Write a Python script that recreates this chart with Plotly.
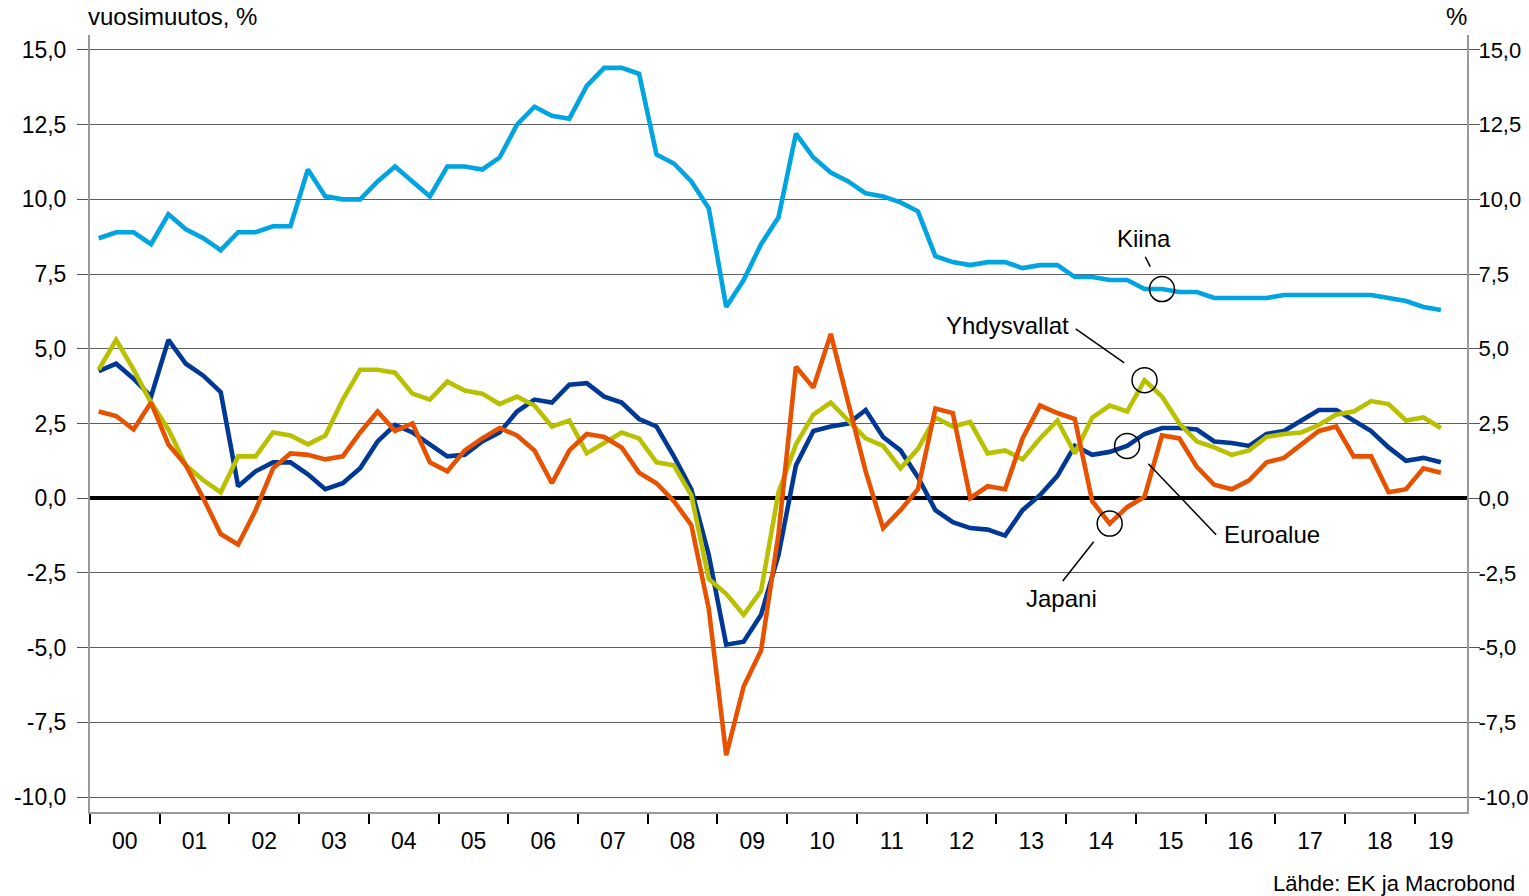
import plotly.graph_objects as go

# ---------------- data (quarterly, 2000Q1 .. 2019Q2) ----------------
START_YEAR = 2000
kiina = [8.7, 8.9, 8.9, 8.5,
         9.5, 9.0, 8.7, 8.3,
         8.9, 8.9, 9.1, 9.1,
         11.0, 10.1, 10.0, 10.0,
         10.6, 11.1, 10.6, 10.1,
         11.1, 11.1, 11.0, 11.4,
         12.5, 13.1, 12.8, 12.7,
         13.8, 14.4, 14.4, 14.2,
         11.5, 11.2, 10.6, 9.7,
         6.4, 7.3, 8.5, 9.4,
         12.2, 11.4, 10.9, 10.6,
         10.2, 10.1, 9.9, 9.6,
         8.1, 7.9, 7.8, 7.9,
         7.9, 7.7, 7.8, 7.8,
         7.4, 7.4, 7.3, 7.3,
         7.0, 7.0, 6.9, 6.9,
         6.7, 6.7, 6.7, 6.7,
         6.8, 6.8, 6.8, 6.8,
         6.8, 6.8, 6.7, 6.6,
         6.4, 6.3]

euroalue = [4.25, 4.5, 4.0, 3.4,
            5.3, 4.5, 4.1, 3.55,
            0.4, 0.9, 1.2, 1.2,
            0.8, 0.3, 0.5, 1.0,
            1.9, 2.45, 2.2, 1.8,
            1.4, 1.45, 1.9, 2.2,
            2.9, 3.3, 3.2, 3.8,
            3.85, 3.4, 3.2, 2.65,
            2.4, 1.4, 0.3, -1.9,
            -4.9, -4.8, -3.9, -1.9,
            1.1, 2.25, 2.4, 2.5,
            2.95, 2.05, 1.6, 0.7,
            -0.4, -0.8, -1.0, -1.05,
            -1.25, -0.4, 0.1, 0.75,
            1.75, 1.45, 1.55, 1.75,
            2.15, 2.35, 2.35, 2.3,
            1.9, 1.85, 1.75, 2.15,
            2.25, 2.6, 2.95, 2.95,
            2.6, 2.25, 1.7, 1.25,
            1.35, 1.2]

yhdysvallat = [4.3, 5.3, 4.3, 3.2,
               2.3, 1.1, 0.6, 0.2,
               1.4, 1.4, 2.2, 2.1,
               1.8, 2.1, 3.3, 4.3,
               4.3, 4.2, 3.5, 3.3,
               3.9, 3.6, 3.5, 3.15,
               3.4, 3.1, 2.4, 2.6,
               1.5, 1.85, 2.2, 2.0,
               1.2, 1.1, 0.1, -2.7,
               -3.2, -3.9, -3.1, 0.2,
               1.8, 2.8, 3.2, 2.6,
               2.0, 1.75, 1.0, 1.65,
               2.7, 2.4, 2.55, 1.5,
               1.6, 1.3, 2.0, 2.6,
               1.5, 2.7, 3.1, 2.9,
               3.95, 3.4, 2.5, 1.9,
               1.7, 1.45, 1.6, 2.05,
               2.15, 2.2, 2.45, 2.8,
               2.9, 3.25, 3.15, 2.6,
               2.7, 2.35]

japani = [2.9, 2.75, 2.3, 3.2,
          1.8, 1.1, 0.0, -1.2,
          -1.55, -0.4, 1.0, 1.5,
          1.45, 1.3, 1.4, 2.2,
          2.9, 2.25, 2.5, 1.2,
          0.9, 1.6, 2.0, 2.35,
          2.1, 1.6, 0.5, 1.6,
          2.15, 2.05, 1.7, 0.85,
          0.5, -0.1, -0.9, -3.7,
          -8.6, -6.3, -5.1, -1.2,
          4.4, 3.7, 5.5, 3.2,
          0.9, -1.0, -0.4, 0.3,
          3.0, 2.85, 0.0, 0.4,
          0.3, 2.0, 3.1, 2.85,
          2.65, -0.1, -0.85, -0.3,
          0.05, 2.1, 2.0, 1.05,
          0.45, 0.3, 0.6, 1.2,
          1.35, 1.8, 2.25, 2.4,
          1.4, 1.4, 0.2, 0.3,
          1.0, 0.85]

y_tickvals = [-10, -7.5, -5, -2.5, 0, 2.5, 5, 7.5, 10, 12.5, 15]
y_ticktext = ["-10,0", "-7,5", "-5,0", "-2,5", "0,0", "2,5", "5,0", "7,5", "10,0", "12,5", "15,0"]
year_labels = ["00", "01", "02", "03", "04", "05", "06", "07", "08", "09",
               "10", "11", "12", "13", "14", "15", "16", "17", "18", "19"]

# label annotations: (text, series, quarter index)
labels = [("Kiina", "kiina", 61), ("Yhdysvallat", "yhdysvallat", 60),
          ("Euroalue", "euroalue", 59), ("Japani", "japani", 58)]

# ---------------- styling ----------------
FONT = "Arial, Liberation Sans, sans-serif"
C_KIINA = "rgb(0,164,224)"
C_EURO = "rgb(0,56,150)"
C_USA = "rgb(184,192,0)"
C_JAP = "rgb(230,82,0)"
TICK_SIZE = 23
TEXT_SIZE = 24

n = len(kiina)
xq = [START_YEAR + (i + 0.5) / 4 for i in range(n)]
X_MAX = START_YEAR + 19.75
series = {"kiina": kiina, "euroalue": euroalue, "yhdysvallat": yhdysvallat, "japani": japani}

fig = go.Figure()
for name, vals, col in [("Kiina", kiina, C_KIINA), ("Euroalue", euroalue, C_EURO),
                        ("Yhdysvallat", yhdysvallat, C_USA), ("Japani", japani, C_JAP)]:
    fig.add_trace(go.Scatter(x=xq, y=vals, mode="lines", name=name,
                             line=dict(color=col, width=4.6), showlegend=False,
                             hoverinfo="x+y+name"))
# dummy trace to activate right axis
fig.add_trace(go.Scatter(x=[xq[0]], y=[None], yaxis="y2", showlegend=False, hoverinfo="skip"))

year_centers = [START_YEAR + k + 0.5 for k in range(19)] + [START_YEAR + 19 + 0.375]
year_starts = [START_YEAR + k for k in range(20)]

fig.update_layout(
    width=1529, height=896,
    margin=dict(l=90, r=62, t=35, b=84, autoexpand=False),
    paper_bgcolor="white", plot_bgcolor="white",
    font=dict(family=FONT, size=TICK_SIZE, color="black"),
    xaxis=dict(range=[START_YEAR, X_MAX], showgrid=False, zeroline=False,
               automargin=False,
               showline=True, linecolor="#999999", linewidth=2,
               tickvals=year_centers, ticktext=year_labels, ticks="",
               ticklabelstandoff=7,
               tickfont=dict(size=TICK_SIZE),
               minor=dict(tickvals=year_starts, ticks="outside", ticklen=10,
                          tickwidth=2, tickcolor="black", showgrid=False)),
    yaxis=dict(range=[-10.5, 15.5], tickvals=y_tickvals, ticktext=y_ticktext,
               automargin=False,
               showgrid=True, gridcolor="#5f5f5f", gridwidth=1,
               zeroline=True, zerolinecolor="black", zerolinewidth=4,
               showline=True, linecolor="#999999", linewidth=2,
               ticks="outside", ticklen=11, tickcolor="#555555", tickwidth=1,
               ticklabelstandoff=6,
               tickfont=dict(size=TICK_SIZE)),
    yaxis2=dict(range=[-10.5, 15.5], tickvals=y_tickvals, ticktext=y_ticktext,
                automargin=False,
                overlaying="y", side="right", showgrid=False, zeroline=False,
                showline=True, linecolor="#999999", linewidth=2,
                ticks="outside", ticklen=11, tickcolor="#555555", tickwidth=1,
                ticklabelstandoff=-6,
                tickfont=dict(size=22)),
)

# circles around labelled points
shapes = []
for text, key, qi in labels:
    xc, yc = xq[qi], series[key][qi]
    shapes.append(dict(type="circle", xref="x", yref="y",
                       xsizemode="pixel", ysizemode="pixel",
                       xanchor=xc, yanchor=yc, x0=-12.5, x1=12.5, y0=-12.5, y1=12.5,
                       line=dict(color="black", width=1.5)))
# leader lines (data coordinates)
leaders = [
    (2015.135, 8.08, 2015.207, 7.75),
    (2014.138, 5.67, 2014.834, 4.53),
    (2015.180, 1.15, 2016.152, -1.22),
    (2014.396, -1.46, 2013.952, -2.77),
]
for x0, y0, x1, y1 in leaders:
    shapes.append(dict(type="line", xref="x", yref="y", x0=x0, y0=y0, x1=x1, y1=y1,
                       line=dict(color="black", width=1.5)))
fig.update_layout(shapes=shapes)

ann = [
    dict(text="Kiina", x=2015.114, y=8.68, xanchor="center", yanchor="middle"),
    dict(text="Yhdysvallat", x=2014.066, y=5.77, xanchor="right", yanchor="middle"),
    dict(text="Euroalue", x=2016.233, y=-1.2, xanchor="left", yanchor="middle"),
    dict(text="Japani", x=2013.937, y=-3.37, xanchor="center", yanchor="middle"),
]
for a in ann:
    fig.add_annotation(xref="x", yref="y", showarrow=False,
                       font=dict(family=FONT, size=TEXT_SIZE, color="black"), **a)

fig.add_annotation(text="vuosimuutos, %", xref="paper", yref="paper", x=0, y=1,
                   xanchor="left", yanchor="middle", xshift=-4, yshift=19,
                   showarrow=False, font=dict(family=FONT, size=TEXT_SIZE, color="black"))
fig.add_annotation(text="%", xref="paper", yref="paper", x=1, y=1,
                   xanchor="center", yanchor="middle", xshift=-11, yshift=19,
                   showarrow=False, font=dict(family=FONT, size=TEXT_SIZE, color="black"))
fig.add_annotation(text="Lähde: EK ja Macrobond", xref="paper", yref="paper", x=1, y=0,
                   xanchor="right", yanchor="middle", xshift=50, yshift=-71,
                   showarrow=False, font=dict(family=FONT, size=22, color="black"))

# remove the default 8px page margin so the figure fills the window exactly
fig.write_html("out.html",
               config={"displayModeBar": False},
               post_script="document.body.style.margin='0px';document.body.style.overflow='hidden';")
